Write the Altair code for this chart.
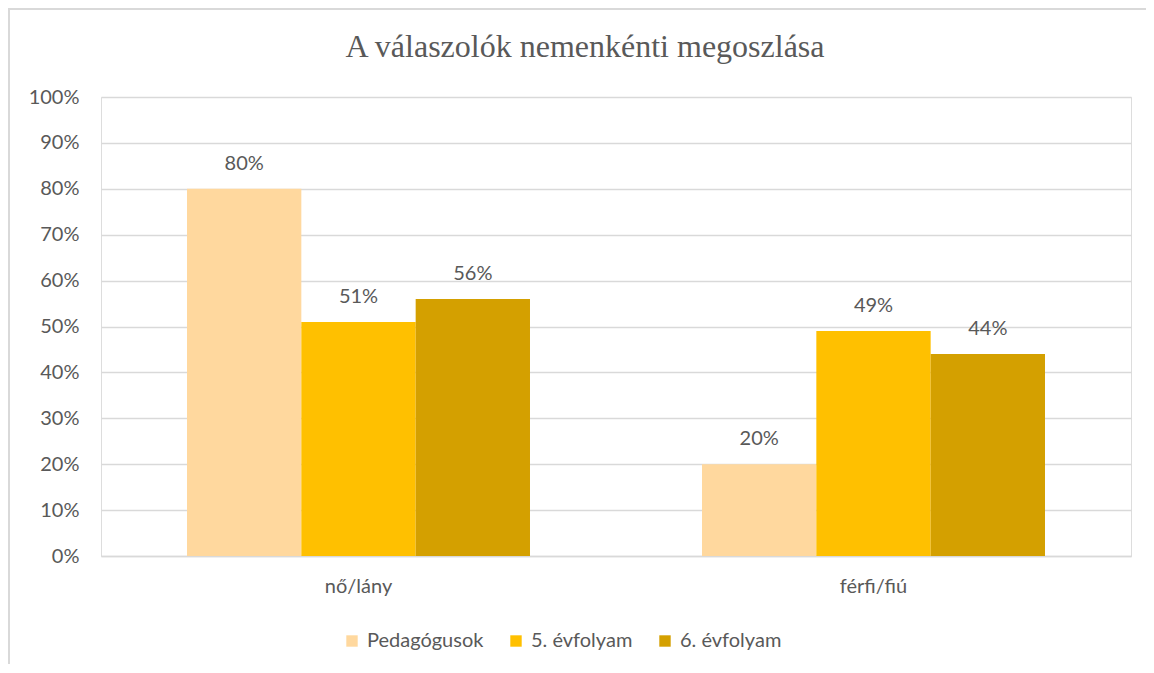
import altair as alt
import pandas as pd

categories = ["nő/lány", "férfi/fiú"]
series = ["Pedagógusok", "5. évfolyam", "6. évfolyam"]
pedagogusok = [80, 20]
evf5 = [51, 49]
evf6 = [56, 44]
colors = ["#FFD89E", "#FFC000", "#D4A000"]

rows = []
for s, vals in zip(series, [pedagogusok, evf5, evf6]):
    for c, v in zip(categories, vals):
        rows.append({"cat": c, "series": s, "value": v / 100.0, "label": f"{v}%"})
df = pd.DataFrame(rows)

FONT = "Lato"
FS = 20
GRAY = "#595959"

x = alt.X("cat:N", sort=categories, title=None,
          scale=alt.Scale(paddingInner=0.334, paddingOuter=0.167),
          axis=alt.Axis(labelAngle=0, labelFont=FONT, labelFontSize=FS, labelColor=GRAY,
                        labelPadding=20, ticks=False, domainColor="#D9D9D9", domainWidth=1.5))
xo = alt.XOffset("series:N", sort=series, scale=alt.Scale(paddingInner=0, paddingOuter=0))
y = alt.Y("value:Q", title=None,
          scale=alt.Scale(domain=[0, 1]),
          axis=alt.Axis(format=".0%", values=[i / 10 for i in range(11)], labelFont=FONT,
                        labelFontSize=FS, labelColor=GRAY, labelPadding=22, ticks=False,
                        domain=False, gridColor="#D9D9D9", gridWidth=1.5))
color = alt.Color("series:N", sort=series,
                  scale=alt.Scale(domain=series, range=colors),
                  legend=alt.Legend(title=None, orient="none", direction="horizontal",
                                    legendX=241, legendY=534, symbolType="square",
                                    symbolSize=130, symbolStrokeWidth=0,
                                    labelFont=FONT, labelFontSize=FS, labelColor=GRAY,
                                    columnPadding=22, labelOffset=5))

base = alt.Chart(df)
bars = base.mark_bar().encode(x=x, xOffset=xo, y=y, color=color)
text = base.mark_text(dy=-25, font=FONT, fontSize=FS, color=GRAY).encode(
    x=alt.X("cat:N", sort=categories), xOffset=alt.XOffset("series:N", sort=series), y="value:Q", text="label:N")

border = alt.Chart(pd.DataFrame({"a": [0]})).mark_rect(
    fill=None, stroke="#D9D9D9", strokeWidth=2).encode(
    x=alt.value(-92), x2=alt.value(1070), y=alt.value(-88), y2=alt.value(600))

chart = alt.layer(border, bars, text).properties(
    width=1030, height=459,
    padding={"left": 93, "top": 89, "right": 15, "bottom": 108},
    autosize=alt.AutoSizeParams(type="none"),
    title=alt.TitleParams("A válaszolók nemenkénti megoszlása", font="Liberation Serif",
                          fontSize=32, fontWeight="normal", color=GRAY, anchor="middle",
                          dx=-31, offset=-56),
).configure_view(stroke=None).configure(background="white")

chart.save("out.html", embed_options={"renderer": "svg", "actions": False})
